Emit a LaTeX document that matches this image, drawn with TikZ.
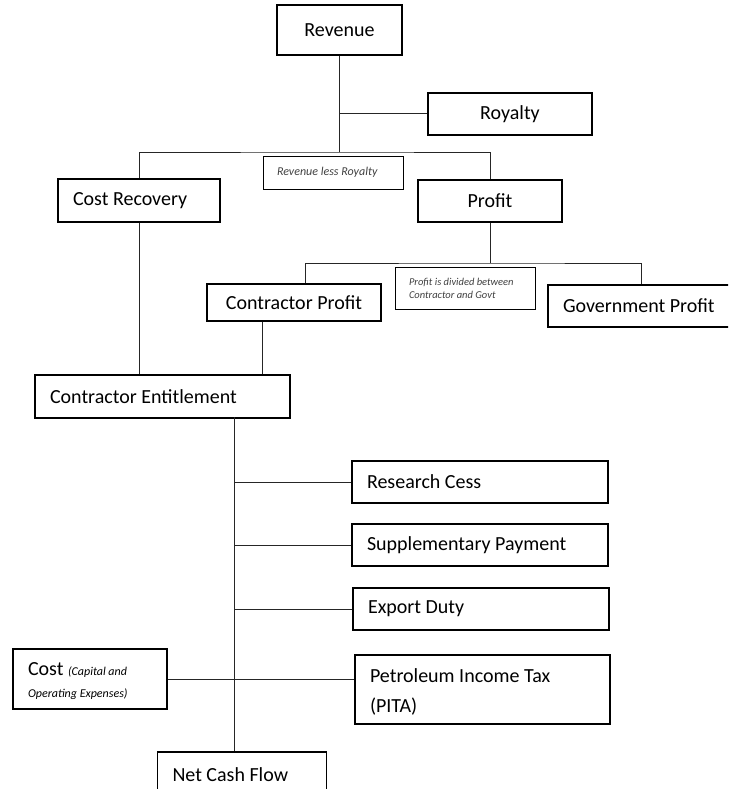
\documentclass[tikz,border=0pt]{standalone}
\usepackage{fontspec}
\setmainfont{Carlito}
\tikzset{
  every picture/.style={font={\fontsize{20}{24}\selectfont}, x=1pt, y=-1pt},
  box/.style={draw, line width=1.2pt, inner xsep=15pt, inner ysep=0pt, align=flush left},
  midbox/.style={box, align=flush center},
  note/.style={box, line width=1pt, inner xsep=14pt, font={\fontsize{10.5}{13.5}\selectfont\itshape}, text=black!75},
  link/.style={line width=1pt, black!85}}

\begin{document}
\begin{tikzpicture}
    \useasboundingbox (0,0) rectangle (728,789);
    \clip (0,0) rectangle (728,789);

    % top: revenue split
    \node [midbox, text width=95pt, minimum height=50pt] (revenue) at (339.5,30) {Revenue};
    \node [midbox, text width=134pt, minimum height=42pt] (royalty) at (510,114) {Royalty};
    \node [box, text width=132pt, minimum height=43pt] (costrec) at (139,200.5) {Cost Recovery};
    \node [note, font={\fontsize{12}{14}\selectfont\itshape}, text width=112pt, minimum height=33pt] (revless) at (333,172.5) {Revenue less Royalty};
    \node [midbox, text width=114pt, minimum height=42pt] (profit) at (490,201) {Profit};

    % profit split
    \node [midbox, text width=144pt, minimum height=37pt] (conprofit) at (294,302.5) {Contractor Profit};
    \node [note, text width=112pt, minimum height=42pt] (divided) at (465,288.5)
      {Profit is divided between\\Contractor and Govt};
    \node [box, text width=157pt, minimum height=42pt] (govprofit) at (641.5,306) {Government Profit};

    \node [box, text width=225pt, minimum height=43pt] (entitle) at (162.5,396.5) {Contractor Entitlement};

    % deductions
    \node [box, text width=226pt, minimum height=42pt] (research) at (480,482) {Research Cess};
    \node [box, text width=226pt, minimum height=42pt] (supp) at (480,545) {Supplementary Payment};
    \node [box, text width=226pt, minimum height=42pt] (export) at (481,609) {Export Duty};
    \node [box, text width=124pt, text height=26pt, text depth=34pt, font={\fontsize{20}{22}\selectfont}] (cost) at (90,679)
      {Cost {\fontsize{12}{22}\selectfont\itshape (Capital and\\Operating Expenses)}};
    \node [box, text width=225pt, text height=27pt, text depth=42pt, font={\fontsize{20}{30}\selectfont}] (pita) at (482.5,689.5)
      {Petroleum Income Tax\\(PITA)};
    \node [box, text width=139pt, minimum height=46pt] (netcash) at (242,775) {Net Cash Flow};

    \coordinate (rsplit) at (339.5,152);
    \coordinate (psplit) at (490,263);
    \coordinate (spine) at (234,417);

    \draw [link] (revenue) -- (rsplit);
    \draw [link] (rsplit |- royalty) -- (royalty);
    \draw [link] (costrec) |- (rsplit) -| (profit);
    \draw [link] (profit) -- (psplit);
    \draw [link] ([xshift=11pt]conprofit.north) |- (psplit) -| (govprofit);
    \draw [link] (costrec) -- (costrec |- entitle.north);
    \draw [link] ([xshift=-32pt]conprofit.south) -- ([xshift=-32pt]conprofit.south |- entitle.north);
    \draw [link] (spine) -- (spine |- netcash.north);
    \foreach \n in {research, supp, export}
      \draw [link] (spine |- \n) -- (\n);
    \draw [link] (cost) -- (cost -| pita.west);
\end{tikzpicture}
\end{document}
